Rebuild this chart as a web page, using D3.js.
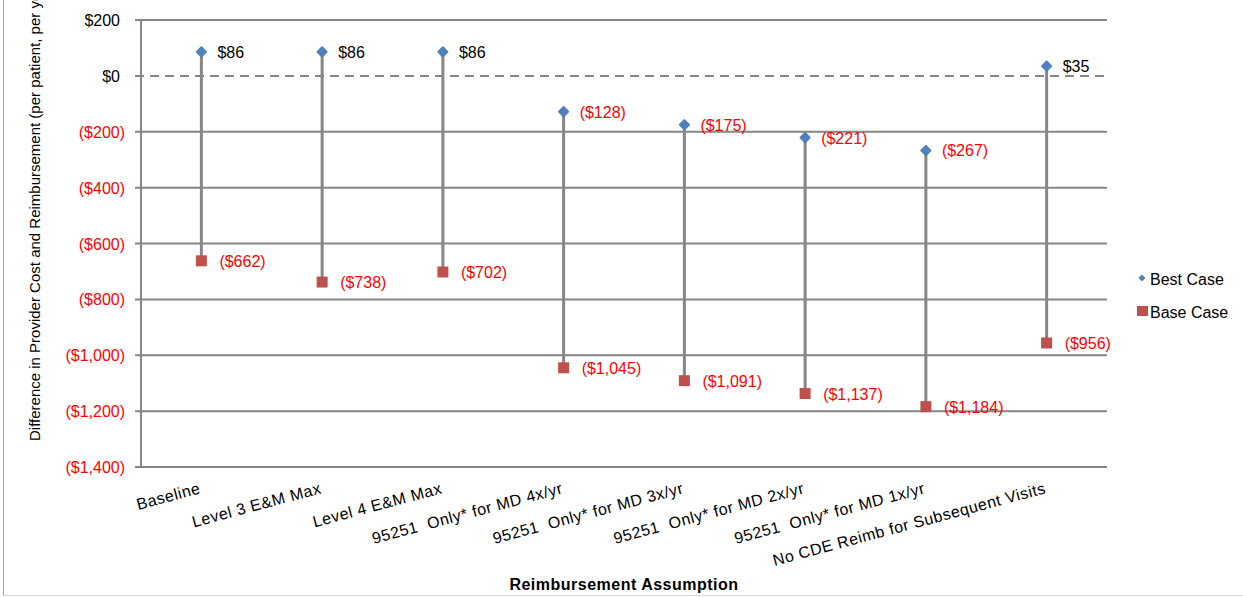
<!DOCTYPE html>
<html>
<head>
<meta charset="utf-8">
<script src="https://cdn.jsdelivr.net/npm/d3@7"></script>
<style>
  html, body { margin: 0; padding: 0; background: #fff; }
  svg { display: block; font-family: "Liberation Sans", Arial, sans-serif; }
</style>
</head>
<body>
<div id="chart"></div>
<script>
// reimbursement scenarios
const categories = [
  'Baseline',
  'Level 3 E&M Max',
  'Level 4 E&M Max',
  '95251  Only* for MD 4x/yr',
  '95251  Only* for MD 3x/yr',
  '95251  Only* for MD 2x/yr',
  '95251  Only* for MD 1x/yr',
  'No CDE Reimb for Subsequent Visits'
];
const bestCase = [86, 86, 86, -128, -175, -221, -267, 35];
const baseCase = [-662, -738, -702, -1045, -1091, -1137, -1184, -956];
const yTicks = [200, 0, -200, -400, -600, -800, -1000, -1200, -1400];
const seriesNames = ['Best Case', 'Base Case'];

const W = 1243, H = 597;
const plot = { left: 141, right: 1107, top: 20, bottom: 467 };
const BLUE = '#4f81bd', RED = '#c0504d', GRID = '#868686', NEG = '#ff0000';

const money = v => v < 0 ? `($${d3.format(',')(-v)})` : `$${d3.format(',')(v)}`;

const svg = d3.select('#chart').append('svg')
  .attr('width', W).attr('height', H);

// outer frame bits
svg.append('line').attr('x1', 3.5).attr('x2', 3.5).attr('y1', 0).attr('y2', 596)
  .attr('stroke', '#a6a6a6').attr('stroke-width', 1);
svg.append('line').attr('x1', 3).attr('x2', W).attr('y1', 595.5).attr('y2', 595.5)
  .attr('stroke', '#d9d9d9').attr('stroke-width', 1);

const x = d3.scaleBand().domain(categories).range([plot.left, plot.right]);
const y = d3.scaleLinear().domain([-1400, 200]).range([plot.bottom, plot.top]);
const cx = c => x(c) + x.bandwidth() / 2;

// grid lines
const grid = svg.append('g');
yTicks.forEach(t => {
  grid.append('line')
    .attr('x1', plot.left - 6).attr('x2', plot.right)
    .attr('y1', y(t)).attr('y2', y(t))
    .attr('stroke', GRID)
    .attr('stroke-width', 2)
    .attr('stroke-dasharray', t === 0 ? '9 6' : null);
});
// left axis line
svg.append('line')
  .attr('x1', plot.left).attr('x2', plot.left)
  .attr('y1', plot.top).attr('y2', plot.bottom)
  .attr('stroke', GRID).attr('stroke-width', 2);

// y tick labels (positives leave room for the closing paren, like Excel)
svg.append('g').selectAll('text')
  .data(yTicks)
  .join('text')
  .attr('x', d => d < 0 ? 125 : 120)
  .attr('y', d => y(d) + 6)
  .attr('text-anchor', 'end')
  .attr('font-size', 16)
  .attr('fill', d => d < 0 ? NEG : '#000')
  .text(money);

// y axis title (clipped at the top like the original)
svg.append('text')
  .attr('transform', 'translate(40,441) rotate(-90)')
  .attr('text-anchor', 'start')
  .attr('font-size', 15)
  .attr('fill', '#000')
  .text('Difference in Provider Cost and Reimbursement (per patient, per year)');

// stems
svg.append('g').selectAll('line')
  .data(categories)
  .join('line')
  .attr('x1', d => cx(d)).attr('x2', d => cx(d))
  .attr('y1', (d, i) => y(bestCase[i]))
  .attr('y2', (d, i) => y(baseCase[i]))
  .attr('stroke', GRID)
  .attr('stroke-width', 3);

// best case markers: small rounded diamonds
const diamond = d3.symbol().type(d3.symbolSquare).size(42);
svg.append('g').selectAll('path')
  .data(bestCase)
  .join('path')
  .attr('d', diamond)
  .attr('transform', (d, i) => `translate(${cx(categories[i])},${y(d)}) rotate(45)`)
  .attr('fill', BLUE)
  .attr('stroke', BLUE)
  .attr('stroke-width', 2)
  .attr('stroke-linejoin', 'round');

// base case markers
svg.append('g').selectAll('rect')
  .data(baseCase)
  .join('rect')
  .attr('x', (d, i) => cx(categories[i]) - 5.5)
  .attr('y', d => y(d) - 5.5)
  .attr('width', 11).attr('height', 11)
  .attr('fill', RED);

// data labels
svg.append('g').selectAll('text')
  .data(bestCase)
  .join('text')
  .attr('x', (d, i) => cx(categories[i]) + 16)
  .attr('y', d => y(d) + 6)
  .attr('font-size', 16)
  .attr('fill', d => d < 0 ? NEG : '#000')
  .text(money);
svg.append('g').selectAll('text')
  .data(baseCase)
  .join('text')
  .attr('x', (d, i) => cx(categories[i]) + 18)
  .attr('y', d => y(d) + 6)
  .attr('font-size', 16)
  .attr('fill', NEG)
  .text(money);

// category labels, rotated
svg.append('g').selectAll('text')
  .data(categories)
  .join('text')
  .attr('transform', d => `translate(${cx(d)},${plot.bottom + 26}) rotate(-15)`)
  .attr('text-anchor', 'end')
  .attr('font-size', 16)
  .attr('letter-spacing', 0.5)
  .attr('fill', '#000')
  .style('white-space', 'pre')
  .text(d => d);

// x axis title
svg.append('text')
  .attr('x', 624).attr('y', 590)
  .attr('text-anchor', 'middle')
  .attr('font-size', 16)
  .attr('font-weight', 'bold')
  .attr('letter-spacing', 0.5)
  .text('Reimbursement Assumption');

// legend
const legend = svg.append('g');
legend.append('path')
  .attr('d', d3.symbol().type(d3.symbolSquare).size(24))
  .attr('transform', 'translate(1142,278) rotate(45)')
  .attr('fill', BLUE);
legend.append('rect')
  .attr('x', 1137).attr('y', 306).attr('width', 11).attr('height', 10)
  .attr('fill', RED);
legend.selectAll('text.lg')
  .data(seriesNames)
  .join('text')
  .attr('class', 'lg')
  .attr('x', 1150)
  .attr('y', (d, i) => 285 + i * 33)
  .attr('font-size', 16)
  .attr('fill', '#000')
  .text(d => d);
</script>
</body>
</html>
